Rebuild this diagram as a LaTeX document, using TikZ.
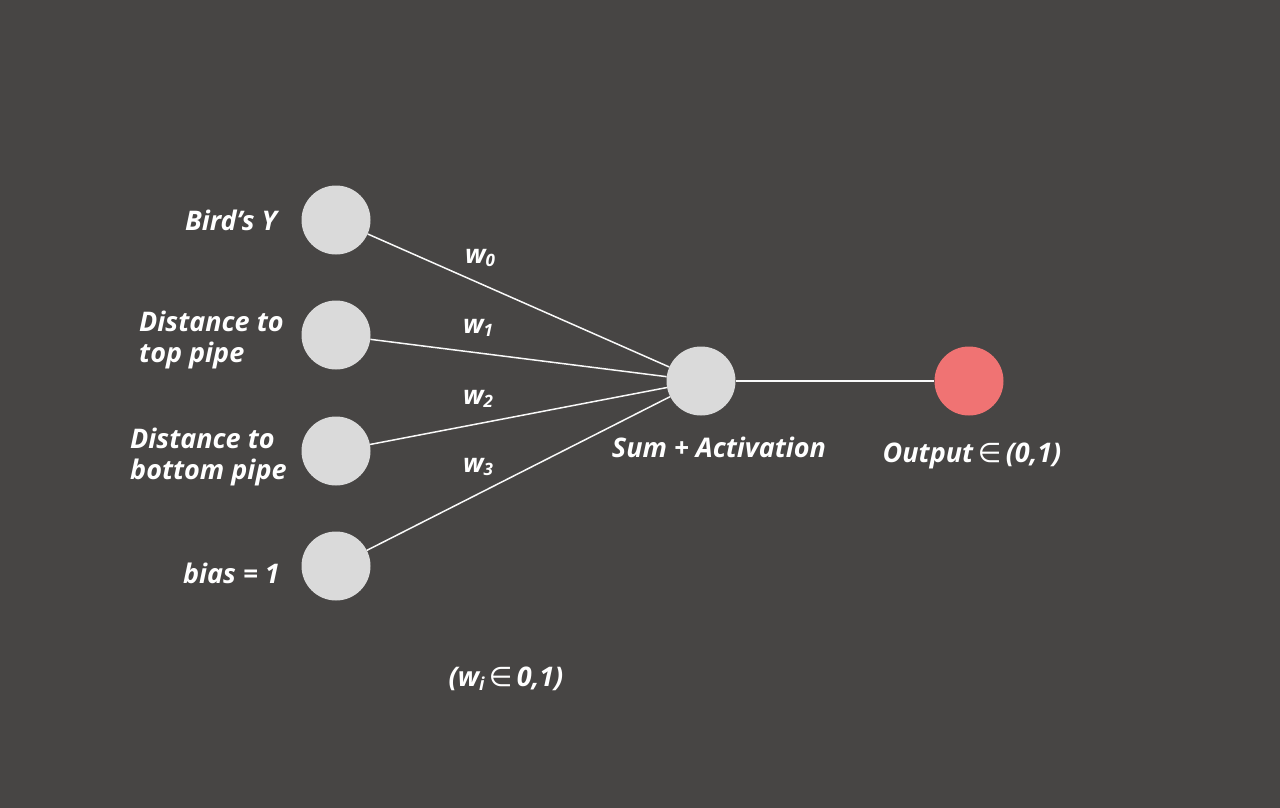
\documentclass[tikz,border=0pt]{standalone}
\usepackage{fontspec}
\setmainfont{Open Sans}
\newfontfamily\symfont{DejaVu Sans}
\definecolor{bg}{HTML}{474544}
\definecolor{nodegray}{HTML}{DADADA}
\definecolor{outred}{HTML}{F07373}
\begin{document}
\begin{tikzpicture}[x=1pt,y=-1pt,
  neuron/.style={circle,fill=nodegray,minimum size=69pt,inner sep=0pt},
  outneuron/.style={circle,fill=outred,minimum size=69pt,inner sep=0pt},
  lbl/.style={text=white,font=\fontsize{27}{31}\selectfont\bfseries\itshape,inner sep=0pt},
  wlbl/.style={text=white,font=\fontsize{26}{28}\selectfont\bfseries\itshape,inner sep=0pt},
  edge/.style={draw=white!95!gray,line width=1.5pt}]
\fill[bg] (0,0) rectangle (1280,808);
\useasboundingbox (0,0) rectangle (1280,808);
\node[neuron] (i0) at (336,220) {};
\node[neuron] (i1) at (336,335) {};
\node[neuron] (i2) at (336,451) {};
\node[neuron] (i3) at (336,566) {};
\node[neuron] (sum) at (701,381) {};
\node[outneuron] (out) at (969,381) {};
\draw[edge] (i0) -- (sum);
\draw[edge] (i1) -- (sum);
\draw[edge] (i2) -- (sum);
\draw[edge] (i3) -- (sum);
\draw[edge] (sum) -- (out);
\node[lbl,anchor=east] (t0) at (277,220) {Bird’s Y};
\node[lbl,anchor=west,align=left] (t1) at (139,340) {Distance to\\top pipe};
\node[lbl,anchor=west,align=left] (t2) at (130,457) {Distance to\\bottom pipe};
\node[lbl,anchor=east] (t3) at (280,573) {bias = 1};
\node[wlbl] (w0) at (480,258) {w\raisebox{-0.25ex}{\fontsize{17}{17}\selectfont 0}};
\node[wlbl] (w1) at (478,328) {w\raisebox{-0.25ex}{\fontsize{17}{17}\selectfont 1}};
\node[wlbl] (w2) at (478,399) {w\raisebox{-0.25ex}{\fontsize{17}{17}\selectfont 2}};
\node[wlbl] (w3) at (478,467) {w\raisebox{-0.25ex}{\fontsize{17}{17}\selectfont 3}};
\node[lbl] (sl) at (719,447) {Sum + Activation};
\node[lbl] (ol) at (972,456) {Output\,{\symfont\mdseries ∈}\,(0,1)};
\node[lbl] (wl) at (506,679) {(w\raisebox{-0.25ex}{\fontsize{18}{18}\selectfont i}\,{\symfont\mdseries ∈}\,0,1)};
\end{tikzpicture}
\end{document}
